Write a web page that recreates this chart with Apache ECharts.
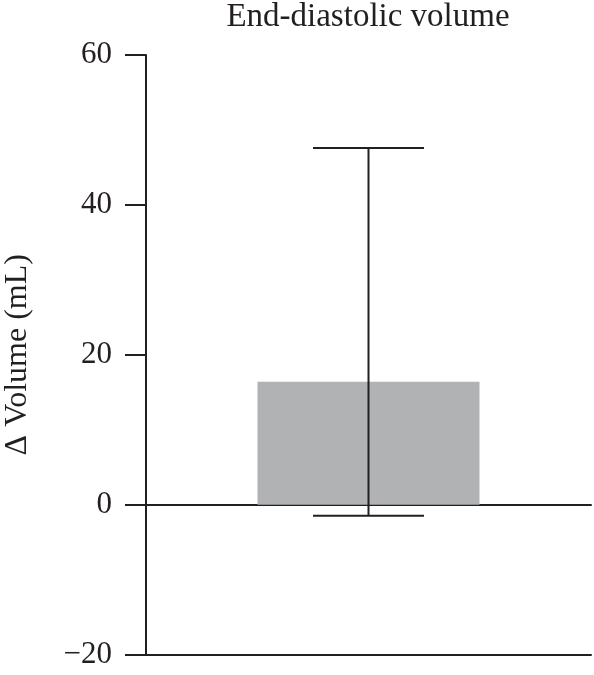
<!DOCTYPE html>
<html>
<head>
<meta charset="utf-8">
<script src="https://cdn.jsdelivr.net/npm/echarts@6/dist/echarts.min.js"></script>
<style>html,body{margin:0;padding:0;background:#fff}#c{width:594px;height:675px}</style>
</head>
<body>
<div id="c"></div>
<script>
var categories = ['End-diastolic volume'];
var meanValues = [16.4];
var errLow = [-1.5];
var errHigh = [47.6];
var yTicks = [-20, 0, 20, 40, 60];

var FONT = 'Liberation Serif';
var INK = '#231f20';
var chart = echarts.init(document.getElementById('c'), null, {renderer: 'canvas'});
chart.setOption({
  animation: false,
  title: {
    text: 'End-diastolic volume',
    left: 368, textAlign: 'center', top: 1, padding: 0,
    textStyle: {fontFamily: FONT, fontSize: 33, fontWeight: 'normal', color: INK}
  },
  grid: {left: 146, right: 3, top: 55, bottom: 20.5, containLabel: false, outerBoundsMode: 'none'},
  xAxis: [{
    type: 'category', data: categories,
    axisLine: {onZero: true, lineStyle: {color: INK, width: 2}},
    axisTick: {show: false}, axisLabel: {show: false}, splitLine: {show: false}
  }, {
    type: 'category', data: categories, position: 'bottom',
    axisLine: {onZero: false, lineStyle: {color: INK, width: 2}},
    axisTick: {show: false}, axisLabel: {show: false}, splitLine: {show: false}
  }],
  yAxis: {
    type: 'value', min: yTicks[0], max: yTicks[yTicks.length - 1], interval: 20,
    name: 'Δ Volume (mL)', nameLocation: 'middle', nameGap: 112,
    nameTextStyle: {fontFamily: FONT, fontSize: 32, color: INK},
    axisLine: {show: true, lineStyle: {color: INK, width: 2}},
    axisTick: {show: true, length: 21, lineStyle: {color: INK, width: 2}},
    axisLabel: {margin: 34, fontFamily: FONT, fontSize: 31, color: INK,
      formatter: function (v) { return String(v).replace('-', '\u2212'); }},
    splitLine: {show: false}
  },
  series: [{
    type: 'bar', data: meanValues, barWidth: 222,
    itemStyle: {color: '#b1b2b4'}, z: 1
  }, {
    type: 'custom', z: 5,
    data: categories.map(function (c, i) { return [i, errLow[i], errHigh[i]]; }),
    renderItem: function (params, api) {
      var lo = api.coord([api.value(0), api.value(1)]);
      var hi = api.coord([api.value(0), api.value(2)]);
      var hw = 55.5;
      var st = {stroke: INK, lineWidth: 2};
      return {type: 'group', children: [
        {type: 'line', shape: {x1: hi[0], y1: hi[1], x2: lo[0], y2: lo[1]}, style: st},
        {type: 'line', shape: {x1: hi[0] - hw, y1: hi[1], x2: hi[0] + hw, y2: hi[1]}, style: st},
        {type: 'line', shape: {x1: lo[0] - hw, y1: lo[1], x2: lo[0] + hw, y2: lo[1]}, style: st}
      ]};
    }
  }]
});
</script>
</body>
</html>
